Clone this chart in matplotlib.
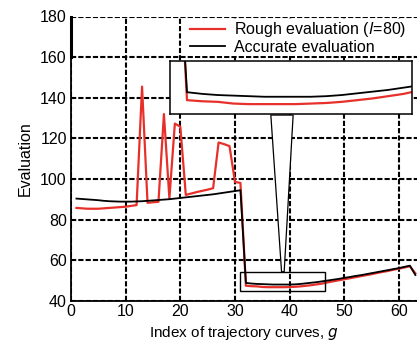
import matplotlib
matplotlib.use("Agg")
import matplotlib.pyplot as plt
from matplotlib.patches import Rectangle, Polygon
import numpy as np

plt.rcParams['font.family'] = ['Liberation Sans', 'DejaVu Sans']

g = list(range(1, 64))
rough = [85.8, 85.6, 85.4, 85.4, 85.4, 85.6, 85.8, 86.0, 86.2, 86.4,
         86.8, 87.2, 145.5, 88.3, 88.6, 88.8, 132.0, 90.5, 127.3, 125.8,
         92.2, 92.9, 93.6, 94.2, 94.8, 95.5, 118.0, 117.2, 116.2, 98.6,
         98.1, 47.5, 47.3, 47.2, 46.9, 46.8, 46.8, 46.8, 46.8, 46.9,
         47.0, 47.2, 47.5, 47.8, 48.2, 48.6, 49.2, 49.7, 50.2, 50.7,
         51.2, 51.7, 52.2, 52.7, 53.2, 53.8, 54.3, 54.8, 55.4, 55.9,
         56.5, 57.1, 53.6]
accurate = [90.4, 90.2, 90.0, 89.8, 89.6, 89.3, 89.1, 89.0, 88.9, 88.9,
            88.9, 89.0, 89.1, 89.3, 89.5, 89.7, 89.9, 90.1, 90.4, 90.7,
            91.0, 91.3, 91.6, 91.9, 92.2, 92.5, 92.9, 93.3, 93.7, 94.1,
            94.5, 48.9, 48.6, 48.4, 48.3, 48.2, 48.1, 48.1, 48.1, 48.1,
            48.2, 48.4, 48.7, 49.0, 49.3, 49.7, 50.1, 50.5, 50.9, 51.4,
            51.8, 52.3, 52.7, 53.2, 53.7, 54.2, 54.7, 55.2, 55.7, 56.2,
            56.8, 57.4, 52.8]
xticks = [0, 10, 20, 30, 40, 50, 60]
yticks = [40, 60, 80, 100, 120, 140, 160, 180]

RED = '#e8302a'
W, H = 417, 349
fig = plt.figure(figsize=(W / 100, H / 100), dpi=100)
ax = fig.add_axes([71 / W, (H - 301) / H, (W - 71) / W, (301 - 16.5) / H])

ax.plot(g, rough, color=RED, lw=1.6, label=r'Rough evaluation ($\it{l}$=80)', zorder=3)
ax.plot(g, accurate, color='black', lw=1.3, label='Accurate evaluation', zorder=3)
ax.set_xlim(0, 63.3)
ax.set_ylim(40, 180)
ax.set_xticks(xticks)
ax.set_yticks(yticks)
ax.tick_params(length=0, labelsize=11.5, pad=3)
ax.tick_params(axis='x', pad=2)
ax.grid(True, color='black', lw=1.5, linestyle=(0, (2.5, 1.0)))
ax.set_axisbelow(True)
for s in ['top', 'right']:
    ax.spines[s].set_visible(False)
for s in ['left', 'bottom']:
    ax.spines[s].set_linewidth(1.3)
ax.plot([0, 0], [160, 180], color='black', lw=2.2, clip_on=False, zorder=4)

ax.set_xlabel(r'Index of trajectory curves, $\it{g}$', fontsize=11, labelpad=4)
ax.set_ylabel('Evaluation', fontsize=11.5, labelpad=5)

leg = ax.legend(loc='upper right', bbox_to_anchor=(408 / W, 1 - 18.5 / H),
                bbox_transform=fig.transFigure, fontsize=11.5,
                frameon=True, fancybox=False, framealpha=1, edgecolor='none',
                handlelength=2.2, handletextpad=0.55, labelspacing=0.05,
                borderpad=0.1, borderaxespad=0.0)
leg.set_zorder(5)

# zoom rectangle
rx0, rx1, ry0, ry1 = 30.9, 46.55, 45.06, 54.4
ax.add_patch(Rectangle((rx0, ry0), rx1 - rx0, ry1 - ry0, fill=False,
                       edgecolor='black', lw=1.0, zorder=4))
# connector wedge
wedge = Polygon([(36.56, 131.5), (40.64, 131.5), (39.0, ry1), (38.52, ry1)],
                closed=True, facecolor='white', edgecolor='black', lw=0.9, zorder=4)
ax.add_patch(wedge)

# inset
ins = fig.add_axes([170 / W, (H - 114) / H, (412 - 170) / W, (114 - 61) / H])
ins.set_zorder(6)
ins.plot(g, rough, color=RED, lw=1.6)
ins.plot(g, accurate, color='black', lw=1.3)
ins.set_xlim(rx0, rx1)
ins.set_ylim(ry0, ry1)
ins.set_xticks([])
ins.set_yticks([])
for s in ins.spines.values():
    s.set_linewidth(1.1)

fig.savefig('out.png', dpi=100)
